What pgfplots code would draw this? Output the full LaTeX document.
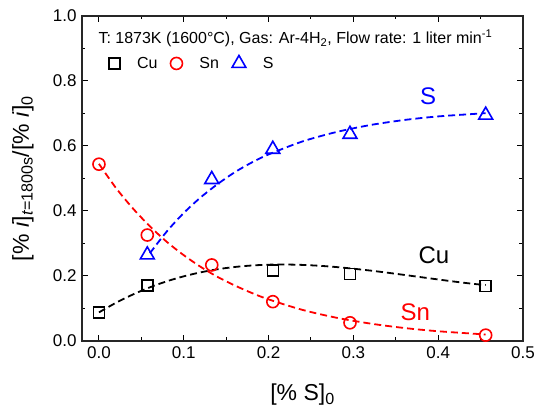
\documentclass[border=0pt]{standalone}
\usepackage{pgfplots}
\pgfplotsset{compat=1.18}
\usepackage{fontspec}
\setmainfont{Liberation Sans}
\definecolor{cuc}{RGB}{0,0,0}
\definecolor{snc}{RGB}{255,0,0}
\definecolor{sc}{RGB}{0,0,255}
\begin{document}
\begin{tikzpicture}
\path[use as bounding box] (-82pt,-78pt) rectangle (456pt,341pt);
\begin{axis}[
  scale only axis,
  width=441pt, height=325pt,
  xmin=-0.02, xmax=0.5,
  ymin=0, ymax=1.0,
  xtick={0,0.1,...,0.5},
  ytick={0,0.2,...,1.0},
  minor x tick num=1,
  minor y tick num=1,
  tick align=inside,
  major tick length=6pt,
  minor tick length=3.5pt,
  every tick/.style={black, line width=1pt},
  axis line style={line width=1.2pt, black!85},
  /pgf/number format/assume math mode=true,
  /pgf/number format/.cd, fixed, fixed zerofill, precision=1,
  /pgfplots/.cd,
  tick label style={font=\fontsize{17}{20}\selectfont},
  xticklabel style={yshift=-2pt},
  yticklabel style={xshift=-2pt},
  xlabel={[\% S]\textsubscript{0}},
  ylabel={[\% \textit{i}]\textsubscript{\textit{t}=1800s}/[\% \textit{i}]\textsubscript{0}},
  label style={font=\fontsize{23}{26}\selectfont},
  xlabel style={at={(axis description cs:0.5,-0.166)}, anchor=center},
  ylabel style={at={(axis description cs:-0.134,0.5)}, anchor=center, rotate=0},
  legend columns=3,
  legend style={draw=none, fill=none, font=\fontsize{16}{18}\selectfont,
    at={(rel axis cs:0.054,0.854)}, anchor=west,
    /tikz/every odd column/.append style={column sep=15pt},
    /tikz/every even column/.append style={column sep=11pt}},
  legend cell align=left,
  clip=false,
]
% measured points
\addplot[only marks, cuc, mark=square, mark size=5.5pt, line width=1.6pt]
  coordinates {(0,0.087) (0.057,0.170) (0.205,0.216) (0.296,0.206) (0.456,0.169)};
\addplot[only marks, snc, mark=o, mark size=6pt, line width=1.6pt]
  coordinates {(0,0.544) (0.057,0.326) (0.133,0.234) (0.205,0.121) (0.296,0.056) (0.456,0.018)};
\addplot[only marks, sc, mark=triangle, mark size=8pt, line width=1.6pt]
  coordinates {(0.057,0.265) (0.133,0.497) (0.205,0.590) (0.296,0.636) (0.456,0.695)};
\legend{Cu, Sn, S}
% fitted curves
\addplot[forget plot, cuc, dashed, dash pattern=on 7pt off 4pt, line width=1.8pt, smooth]
  coordinates {(0,0.088) (0.02,0.1175) (0.04,0.1431) (0.06,0.1651) (0.08,0.1837)
    (0.10,0.199) (0.12,0.2113) (0.14,0.2208) (0.16,0.2277) (0.18,0.2323)
    (0.20,0.2348) (0.22,0.2353) (0.24,0.2341) (0.26,0.2314) (0.28,0.2275)
    (0.30,0.2224) (0.32,0.2167) (0.34,0.2102) (0.36,0.2033) (0.38,0.1963)
    (0.40,0.1893) (0.42,0.1825) (0.44,0.1762) (0.456,0.172)};
\addplot[forget plot, snc, dashed, dash pattern=on 7pt off 4pt, line width=1.8pt, smooth]
  coordinates {(0,0.545) (0.02,0.471) (0.04,0.408) (0.06,0.353) (0.08,0.305)
    (0.10,0.264) (0.12,0.228) (0.14,0.197) (0.16,0.171) (0.18,0.148)
    (0.20,0.128) (0.24,0.0957) (0.28,0.0716) (0.32,0.0536) (0.36,0.040)
    (0.40,0.030) (0.456,0.020)};
\addplot[forget plot, sc, dashed, dash pattern=on 7pt off 4pt, line width=1.8pt, smooth]
  coordinates {(0.06,0.270) (0.08,0.337) (0.10,0.394) (0.12,0.442) (0.14,0.483)
    (0.16,0.519) (0.18,0.549) (0.20,0.574) (0.24,0.614) (0.28,0.643)
    (0.32,0.6645) (0.36,0.680) (0.40,0.691) (0.456,0.701)};
% annotations
\node[anchor=west, font=\fontsize{16}{18}\selectfont, inner sep=0pt]
  at (rel axis cs:0.037,0.932)
  {T: 1873K (1600°C), Gas: Ar-4H\textsubscript{2}, Flow rate: 1 liter min\textsuperscript{-1}};
\node[sc, font=\fontsize{24}{26}\selectfont] at (axis cs:0.388,0.754) {S};
\node[cuc, font=\fontsize{24}{26}\selectfont] at (axis cs:0.395,0.265) {Cu};
\node[snc, font=\fontsize{24}{26}\selectfont] at (axis cs:0.373,0.090) {Sn};
\end{axis}
\end{tikzpicture}
\end{document}
